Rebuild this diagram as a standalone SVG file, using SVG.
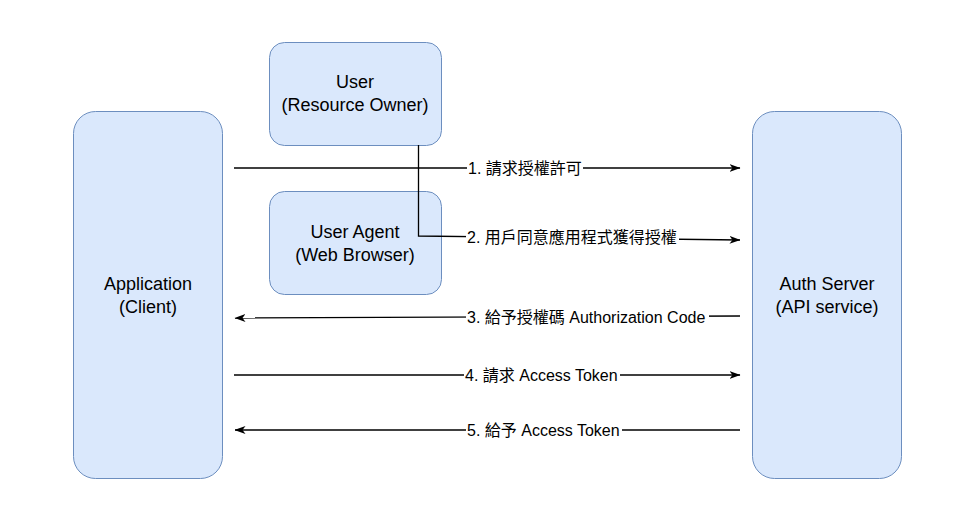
<svg xmlns="http://www.w3.org/2000/svg" width="965" height="517" viewBox="0 0 965 517">
<style>
.node{fill:#dae8fc;stroke:#6c8ebf;stroke-width:1}
.nt{font-family:"Liberation Sans",Arial,sans-serif;font-size:18px;fill:#000;text-anchor:middle}
.edge{fill:none;stroke:#000;stroke-width:1.3}
.lbl{font-family:"Liberation Sans","Noto Sans CJK TC",sans-serif;font-size:16px;fill:#000}
.bg{fill:#fff}
</style>
<defs>
<marker id="ah" viewBox="0 0 11 8" refX="10.5" refY="4" markerWidth="11" markerHeight="8" markerUnits="userSpaceOnUse" orient="auto">
<path d="M0,0 L11,4 L0,8 L3,4 Z" fill="#000"/>
</marker>
</defs>
<rect width="965" height="517" fill="#fff"/>
<g id="app">
<rect class="node" x="73.5" y="111.5" width="149" height="367" rx="22"/>
<text class="nt" x="148" y="290">Application</text>
<text class="nt" x="148" y="313">(Client)</text>
</g>
<g id="auth">
<rect class="node" x="752.5" y="111.5" width="149" height="367" rx="22"/>
<text class="nt" x="827" y="290">Auth Server</text>
<text class="nt" x="827" y="313">(API service)</text>
</g>
<g id="user">
<rect class="node" x="269.5" y="42.5" width="172" height="103" rx="15"/>
<text class="nt" x="355" y="88">User</text>
<text class="nt" x="355" y="111">(Resource Owner)</text>
</g>
<g id="agent">
<rect class="node" x="269.5" y="191.5" width="172" height="103" rx="15"/>
<text class="nt" x="355" y="238">User Agent</text>
<text class="nt" x="355" y="261">(Web Browser)</text>
</g>
<g id="connectors">
<path class="edge" d="M234,168 H740" marker-end="url(#ah)"/>
<rect class="bg" x="467" y="159" width="116" height="18"/>
<text class="lbl" x="468" y="174">1. 請求授權許可</text>
<path class="edge" d="M418.5,145 V236 L740,240" marker-end="url(#ah)"/>
<rect class="bg" x="466" y="228" width="213" height="18"/>
<text class="lbl" x="467" y="243">2. 用戶同意應用程式獲得授權</text>
<path class="edge" d="M740,316 L235,318" marker-end="url(#ah)"/>
<rect class="bg" x="466" y="308" width="243" height="18"/>
<text class="lbl" x="467" y="323">3. 給予授權碼 Authorization Code</text>
<path class="edge" d="M234,375 H740" marker-end="url(#ah)"/>
<rect class="bg" x="464" y="366" width="156" height="18"/>
<text class="lbl" x="465" y="381">4. 請求 Access Token</text>
<path class="edge" d="M740,430 H235" marker-end="url(#ah)"/>
<rect class="bg" x="466" y="421" width="156" height="18"/>
<text class="lbl" x="467" y="436">5. 給予 Access Token</text>
</g>
</svg>
